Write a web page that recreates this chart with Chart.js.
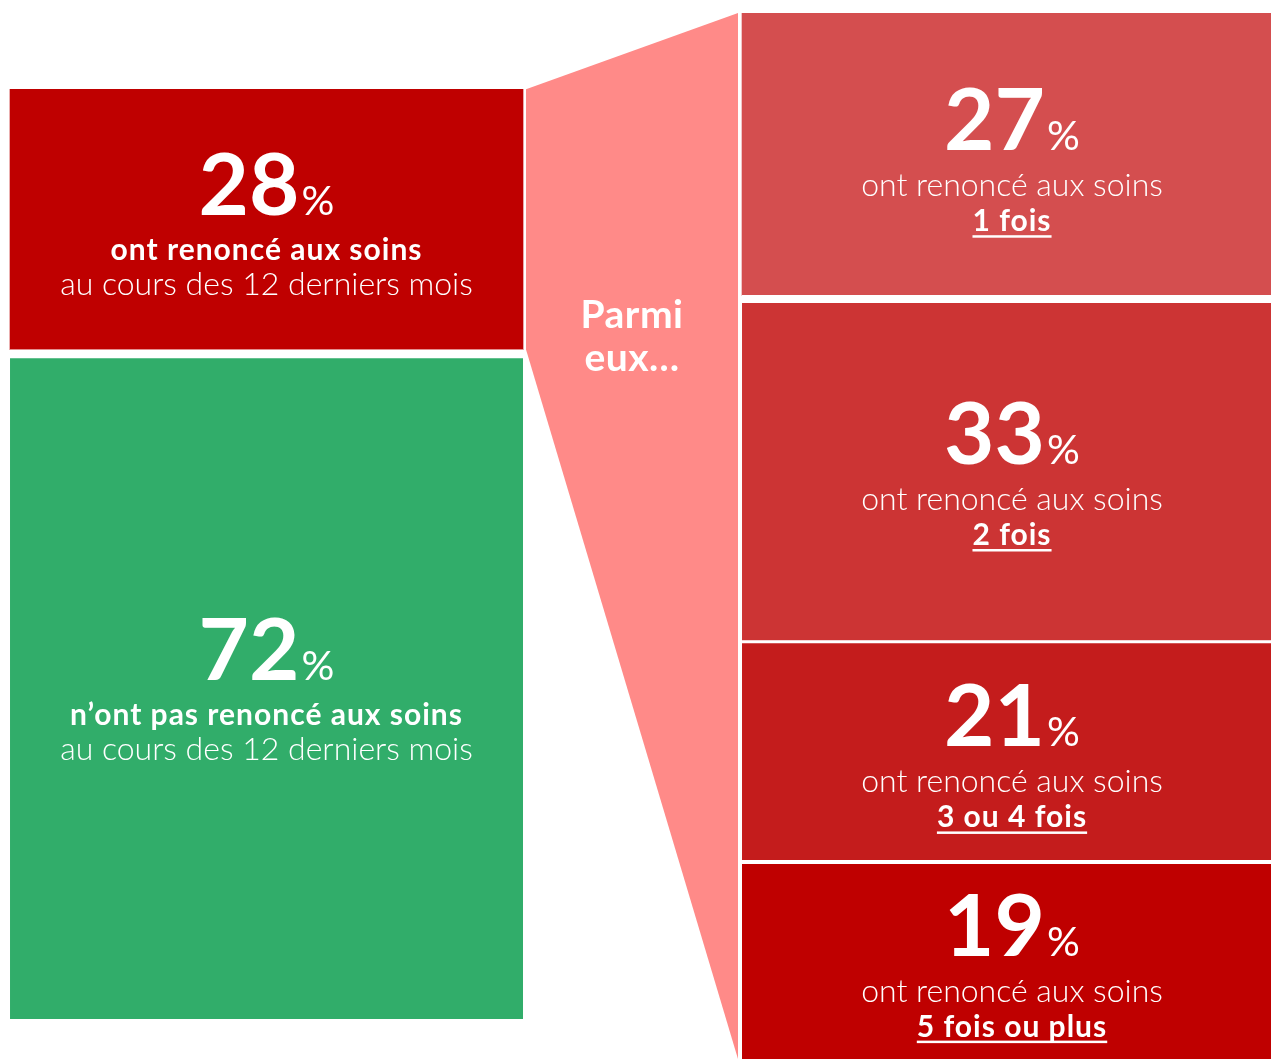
<!DOCTYPE html>
<html lang="fr">
<head>
<meta charset="utf-8">
<title>Renoncement aux soins</title>
<script src="https://cdn.jsdelivr.net/npm/chart.js@4.4.1/dist/chart.umd.min.js"></script>
<style>
  html, body { margin: 0; padding: 0; background: #fff; }
  #wrap { width: 1271px; height: 1059px; position: relative; }
</style>
</head>
<body>
<div id="wrap"><canvas id="myChart"></canvas></div>
<script>
const groups = ['Ensemble', 'Parmi eux'];

// left bar, bottom to top
const overallValues = [72, 28];
const overallTitles = ['n’ont pas renoncé aux soins', 'ont renoncé aux soins'];
const overallPeriod = 'au cours des 12 derniers mois';

// right bar, bottom to top
const timesValues = [19, 21, 33, 27];
const timesLabels = ['5 fois ou plus', '3 ou 4 fois', '2 fois', '1 fois'];
const timesTitle = 'ont renoncé aux soins';

const funnelText = ['Parmi', 'eux…'];

const overallColors = ['#31ad6a', '#bf0000'];
const timesColors = ['#bf0000', '#c41c1c', '#cc3434', '#d44e4f'];
const overallGaps = [9, 0];
const timesGaps = [4, 3, 8, 0];
const funnelColor = '#ff8a88';
const font = 'Lato, "Open Sans", sans-serif';

const ctx = document.getElementById('myChart');

// x is the group index (0 = Ensemble, 1 = Parmi eux)
const datasets = [];
overallValues.forEach((v, i) => {
  datasets.push({
    label: overallTitles[i],
    data: [{x: 0, y: v}],
    yAxisID: 'yL',
    stack: 'all',
    backgroundColor: overallColors[i],
    borderColor: '#fff',
    borderWidth: {top: overallGaps[i]},
    borderSkipped: 'start',
    barThickness: 513,
    side: 'left'
  });
});
timesValues.forEach((v, i) => {
  datasets.push({
    label: timesLabels[i],
    data: [{x: 1, y: v}],
    yAxisID: 'yR',
    stack: 'all',
    backgroundColor: timesColors[i],
    borderColor: '#fff',
    borderWidth: {top: timesGaps[i]},
    borderSkipped: 'start',
    barThickness: 540,
    side: 'right'
  });
});

function drawNumber(c, cx, baseline, value) {
  c.letterSpacing = '0px';
  c.font = '700 87px ' + font;
  const w1 = c.measureText(String(value)).width;
  c.font = '400 41px ' + font;
  const w2 = c.measureText('%').width;
  const x0 = cx - (w1 + w2 + 2) / 2;
  c.textAlign = 'left';
  c.font = '700 87px ' + font;
  c.fillText(String(value), x0, baseline);
  c.font = '400 41px ' + font;
  c.fillText('%', x0 + w1 + 2, baseline);
}

function drawLine(c, cx, y, text, bold, underline) {
  c.textAlign = 'center';
  if (bold) {
    c.font = '700 30px ' + font;
    c.letterSpacing = '1px';
  } else {
    c.font = '300 32px ' + font;
    c.letterSpacing = '0px';
  }
  c.fillText(text, cx, y);
  if (underline) {
    const w = c.measureText(text).width;
    c.fillRect(cx - w / 2, y + 4, w, 2.5);
  }
  c.letterSpacing = '0px';
}

const labelPlugin = {
  id: 'segmentLabels',
  afterDraw(chart) {
    const c = chart.ctx;
    const nL = overallValues.length;
    const red = chart.getDatasetMeta(nL - 1).data[0];
    const rTop = chart.getDatasetMeta(datasets.length - 1).data[0];
    const rBot = chart.getDatasetMeta(nL).data[0];

    // funnel between the "renoncé" segment and the right bar
    const x1 = red.x + red.width / 2 + 3;
    const x2 = rTop.x - rTop.width / 2 - 4;
    c.save();
    c.fillStyle = funnelColor;
    c.beginPath();
    c.moveTo(x1, red.y);
    c.lineTo(x2, rTop.y);
    c.lineTo(x2, rBot.base);
    c.lineTo(x1, red.base);
    c.closePath();
    c.fill();

    c.fillStyle = '#fff';
    c.textBaseline = 'alphabetic';
    c.font = '700 39px ' + font;
    c.letterSpacing = '0.5px';
    c.textAlign = 'center';
    c.fillText(funnelText[0], (x1 + x2) / 2, red.base - 22);
    c.fillText(funnelText[1], (x1 + x2) / 2, red.base + 21);

    chart.data.datasets.forEach((ds, i) => {
      const el = chart.getDatasetMeta(i).data[0];
      const value = ds.data[0].y;
      const cy = (el.y + el.base) / 2;
      const base = cy - 4;
      drawNumber(c, el.x, base, value);
      if (ds.side === 'left') {
        drawLine(c, el.x, base + 45, ds.label, true, false);
        drawLine(c, el.x, base + 80, overallPeriod, false, false);
      } else {
        drawLine(c, el.x, base + 46, timesTitle, false, false);
        drawLine(c, el.x, base + 81, ds.label, true, true);
      }
    });
    c.restore();
  }
};

new Chart(ctx, {
  type: 'bar',
  data: {
    labels: groups,
    datasets: datasets
  },
  options: {
    responsive: true,
    maintainAspectRatio: false,
    animation: false,
    layout: {
      padding: {left: 0, right: 0, top: 13, bottom: 0}
    },
    scales: {
      x: {
        type: 'linear',
        offset: false,
        min: -0.3575,
        max: 1.3474,
        display: false
      },
      yL: {
        stacked: true,
        position: 'left',
        min: -4.3,
        max: 108.2,
        display: false
      },
      yR: {
        stacked: true,
        position: 'right',
        min: 0,
        max: 100,
        display: false
      }
    },
    plugins: {
      legend: {display: false},
      tooltip: {enabled: false}
    }
  },
  plugins: [labelPlugin]
});
</script>
</body>
</html>
